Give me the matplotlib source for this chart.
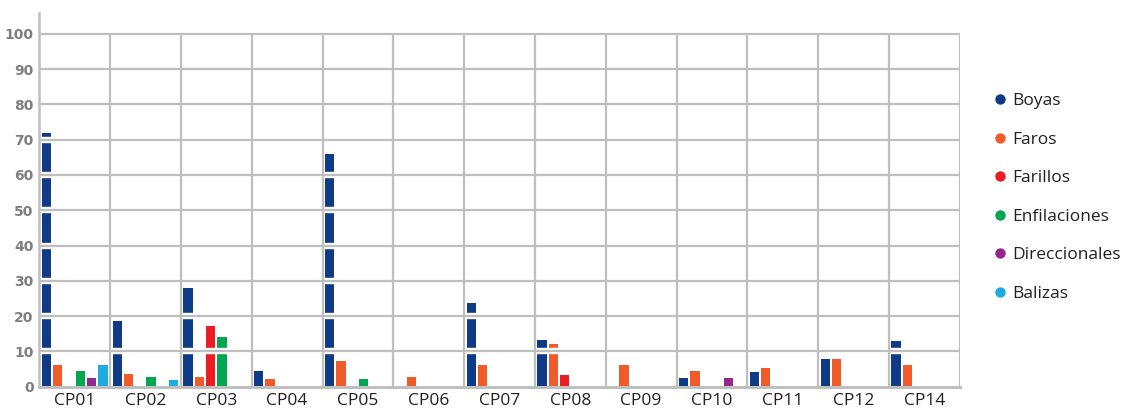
import matplotlib
matplotlib.use("Agg")
import matplotlib.pyplot as plt
from matplotlib.lines import Line2D

categories = ["CP01", "CP02", "CP03", "CP04", "CP05", "CP06", "CP07",
              "CP08", "CP09", "CP10", "CP11", "CP12", "CP14"]
series_names = ["Boyas", "Faros", "Farillos", "Enfilaciones", "Direccionales", "Balizas"]
boyas = [72, 18.5, 28, 4.4, 66, 0, 23.6, 13.1, 0, 2.4, 4.1, 7.8, 12.9]
faros = [6.1, 3.5, 2.7, 2.1, 7.2, 2.7, 6.1, 12, 6.1, 4.4, 5.2, 7.8, 6.1]
farillos = [0, 0, 17.1, 0, 0, 0, 0, 3.2, 0, 0, 0, 0, 0]
enfilaciones = [4.4, 2.7, 14, 0, 2.1, 0, 0, 0, 0, 0, 0, 0, 0]
direccionales = [2.6, 0, 0, 0, 0, 0, 0, 0, 0, 2.4, 0, 0, 0]
balizas = [6.1, 1.8, 0, 0, 0, 0, 0, 0, 0, 0, 0, 0, 0]
yticks = [0, 10, 20, 30, 40, 50, 60, 70, 80, 90, 100]

colors = ["#0f3a85", "#f15a29", "#ed1c24", "#00a651", "#92278f", "#1cabe2"]
all_series = [boyas, faros, farillos, enfilaciones, direccionales, balizas]

fig = plt.figure(figsize=(11.23, 4.11), dpi=100)
ax = fig.add_axes([39.3 / 1123, (411 - 386.7) / 411,
                   (959.7 - 39.3) / 1123, (386.7 - 13) / 411])
ax.set_xlim(0, len(categories))
ax.set_ylim(0, 105.9)

slot = 0.16
bw = 0.131
off = 0.034
for j, (vals, c) in enumerate(zip(all_series, colors)):
    xs = [i + off + j * slot for i in range(len(categories))]
    ax.bar(xs, vals, width=bw, align="edge", color=c, zorder=2, linewidth=0)

grid_c = "#bfbfbf"
for y in yticks[1:]:
    ax.axhline(y, color="white", lw=4.6, zorder=3)
    ax.axhline(y, color=grid_c, lw=1.6, zorder=4)
ax.vlines(range(1, len(categories) + 1), 0, 100, color=grid_c, lw=1.6, zorder=4)

for s in ["top", "right"]:
    ax.spines[s].set_visible(False)
for s in ["left", "bottom"]:
    ax.spines[s].set_color(grid_c)
    ax.spines[s].set_zorder(5)
ax.spines["left"].set_linewidth(1.8)
ax.spines["bottom"].set_linewidth(2.2)

ax.set_yticks(yticks)
ax.set_yticklabels([str(v) for v in yticks], fontsize=10, fontweight="heavy",
                   color="#7f7f7f", family="DejaVu Sans")
ax.set_xticks([i + 0.5 for i in range(len(categories))])
ax.set_xticklabels(categories, fontsize=12.5, color="#231f20", family="Open Sans")
ax.tick_params(axis="both", length=0)
ax.tick_params(axis="y", pad=4)
ax.tick_params(axis="x", pad=4.5)

handles = [Line2D([], [], marker="o", linestyle="none", markersize=7.5,
                  markerfacecolor=c, markeredgewidth=0) for c in colors]
fig.legend(handles, series_names, loc="upper left",
           bbox_to_anchor=(991 / 1123, 1 - 93 / 411), frameon=False,
           prop={"family": "Open Sans", "size": 12.5}, labelcolor="#231f20",
           handlelength=1.0, handletextpad=0.2, labelspacing=1.29,
           borderaxespad=0, borderpad=0)

fig.savefig("out.png", dpi=100)
